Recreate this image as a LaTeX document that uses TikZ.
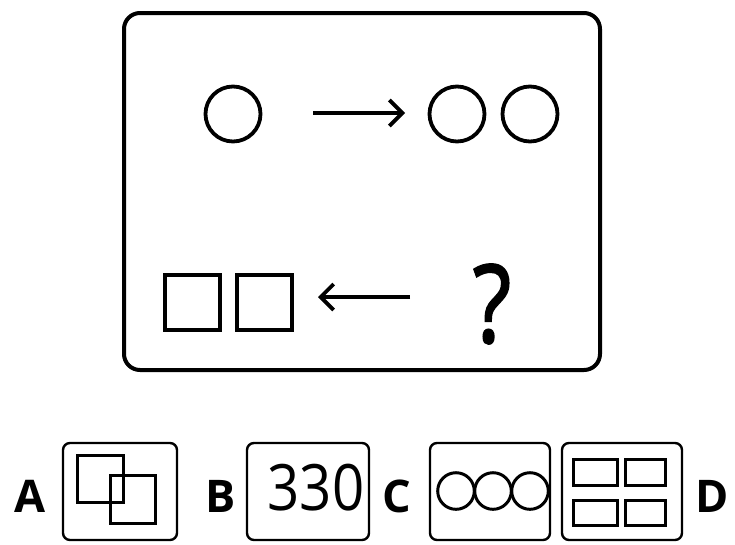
\documentclass[tikz,border=0pt]{standalone}
\usepackage{fontspec}
\setmainfont{Open Sans}
\newfontfamily\qfont[FakeBold=2]{Open Sans}
\usetikzlibrary{arrows.meta}
\begin{document}
\begin{tikzpicture}[x=1pt,y=-1pt,
  frame/.style={draw,line width=4pt,rounded corners=16pt},
  optbox/.style={draw,line width=2.4pt,rounded corners=7pt},
  shp/.style={draw,line width=3.8pt},
  thin shp/.style={draw,line width=3pt},
  arr/.style={line width=3.8pt,-{Straight Barb[length=13pt,width=26pt,line width=3.8pt]}},
  lab/.style={font=\fontsize{45}{45}\selectfont\bfseries,inner sep=0pt}]
\useasboundingbox (0,0) rectangle (735,544);
% main frame
\draw[frame] (124,13) rectangle (600,370);
% top row
\draw[shp] (233,114) circle (27.5);
\draw[shp] (457,114) circle (27.5);
\draw[shp] (530,114) circle (27.5);
\coordinate (t1) at (313,113);
\coordinate (t2) at (405,113);
\draw[arr] (t1) -- (t2);
% bottom row
\draw[shp] (165,275) rectangle (220,330);
\draw[shp] (237,275) rectangle (292,330);
\coordinate (b1) at (410,297);
\coordinate (b2) at (318,297);
\draw[arr] (b1) -- (b2);
\node[inner sep=0pt,font=\fontsize{108}{108}\qfont,xscale=0.82] (q) at (492,304) {?};
% options
\draw[optbox] (63,443) rectangle (177,540);
\draw[thin shp] (77,455) rectangle (123,502);
\draw[thin shp] (110,475) rectangle (155,523);
\draw[optbox] (247,443) rectangle (369,540);
\node[inner sep=0pt,font=\fontsize{64}{64}\selectfont,xscale=0.88] (n330) at (316,488) {330};
\draw[optbox] (430,443) rectangle (550,540);
\draw[thin shp] (456,491) circle (18.3);
\draw[thin shp] (493,491) circle (18.3);
\draw[thin shp] (530,491) circle (18.3);
\draw[optbox] (562,443) rectangle (682,540);
\draw[thin shp] (573,459) rectangle (617,485);
\draw[thin shp] (625,459) rectangle (665,485);
\draw[thin shp] (573,500) rectangle (617,525);
\draw[thin shp] (625,500) rectangle (665,525);
\node[lab] (A) at (30,496) {A};
\node[lab] (B) at (221,496) {B};
\node[lab] (C) at (397,496) {C};
\node[lab] (D) at (712,496) {D};
\end{tikzpicture}
\end{document}
